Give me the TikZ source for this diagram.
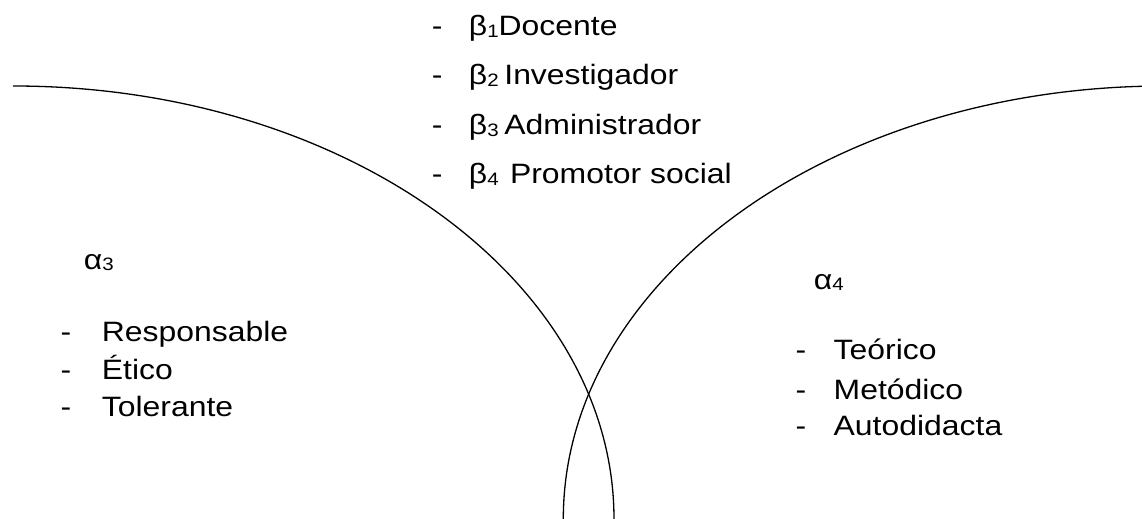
\documentclass[tikz,border=0pt]{standalone}
\usepackage{fontspec}
\setmainfont{Liberation Sans}[FakeStretch=1.14]

\newcommand\idx[1]{\raisebox{-0.6pt}{\fontsize{9}{9}\selectfont #1}}
\newcommand\guion[2][19pt]{\makebox[#1][l]{-}#2}

\begin{document}
\begin{tikzpicture}[x=0.5pt,y=0.5pt,
    every node/.style={inner sep=0pt,anchor=base west,font=\fontsize{14}{17}\selectfont}]
            {
    \def\leftarc{(13,433) arc[start angle=90,end angle=0,x radius=300.5pt,y radius=216.5pt]}
    \def\rightarc{(563.3,0) arc[start angle=180,end angle=90,x radius=300.5pt,y radius=216.5pt]}
    \def\caja{(0,0) rectangle (1142,519)}

    \useasboundingbox \caja;
    \clip \caja;

    \draw[line width=0.65pt] \leftarc;
    \draw[line width=0.65pt] \rightarc;

    % roles
    \node (b1) at (431.5,483) {\guion[18.5pt]{β\idx{1}Docente}};
    \node (b2) at (431.5,434) {\guion[18.5pt]{β\idx{2\ }Investigador}};
    \node (b3) at (431.5,384) {\guion[18.5pt]{β\idx{3\ }Administrador}};
    \node (b4) at (431.5,335) {\guion[18.5pt]{β\idx{4\ \ }Promotor social}};

    % alpha 3
    \node (a3) at (83.4,249.7) {α\idx{3}};
    \node (a3r) at (60.3,177.3) {\guion[20.6pt]{Responsable}};
    \node (a3e) at (60.3,139) {\guion[20.6pt]{Ético}};
    \node (a3t) at (60.3,102.3) {\guion[20.6pt]{Tolerante}};

    % alpha 4
    \node (a4) at (813.4,229.7) {α\idx{4}};
    \node (a4t) at (795.3,159) {\guion{Teórico}};
    \node (a4m) at (795.3,119.7) {\guion{Metódico}};
    \node (a4a) at (795.3,83) {\guion{Autodidacta}};
}
\end{tikzpicture}
\end{document}
